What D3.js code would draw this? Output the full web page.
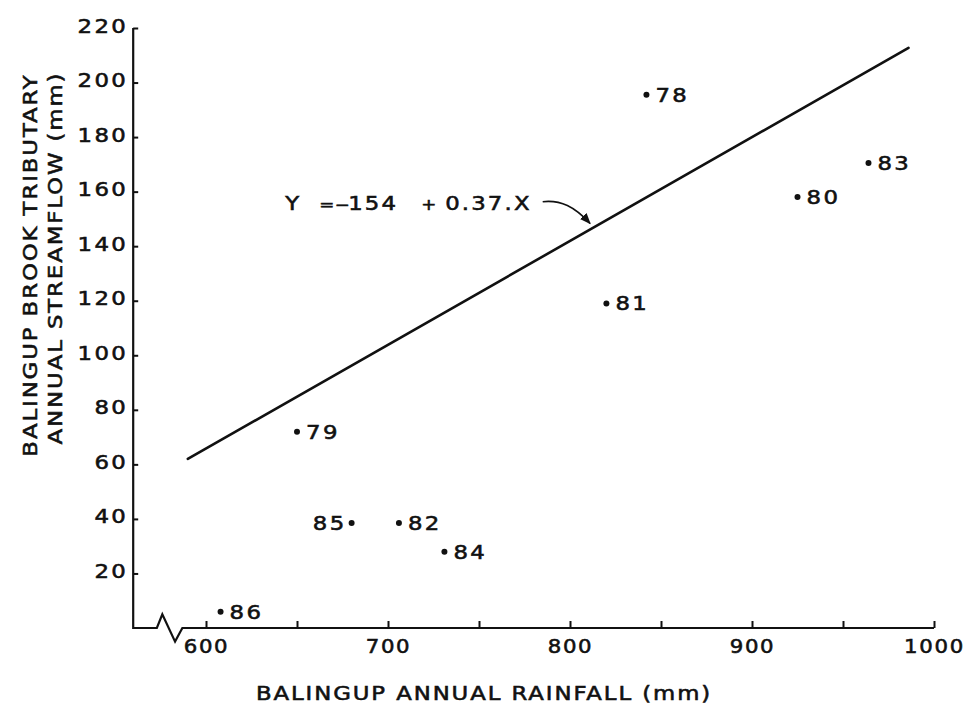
<!DOCTYPE html>
<html>
<head>
<meta charset="utf-8">
<script src="https://cdn.jsdelivr.net/npm/d3@7"></script>
<style>
  html, body { margin: 0; padding: 0; background: #fff; }
  svg { display: block; }
  text { font-family: "DejaVu Sans", sans-serif; fill: #111; stroke: #111; stroke-width: 0.55px; }
</style>
</head>
<body>
<svg id="chart" width="967" height="715"></svg>
<script>
// ---- data ----
const years      = ["78", "79", "80", "81", "82", "83", "84", "85", "86"];
const rainfall   = [842, 650, 925, 820, 706, 964, 731, 680, 608];   // mm
const streamflow = [195.5, 72, 158, 119, 38.5, 170.5, 28, 38.5, 6]; // mm
const labelSide  = ["right", "right", "right", "right", "right", "right", "right", "left", "right"];

const fitRain = [590, 986];        // regression line end points (x)
const fitFlow = [62, 212.7];       // regression line end points (y)
const equationText = ["Y", "=\u2212", "154", "+", "0.37.X"];

const xTicks = [600, 650, 700, 750, 800, 850, 900, 950, 1000];
const xTickLabels = [600, 700, 800, 900, 1000];
const yTicks = [20, 40, 60, 80, 100, 120, 140, 160, 180, 200, 220];

const xTitle = "BALINGUP ANNUAL RAINFALL (mm)";
const yTitle1 = "BALINGUP BROOK TRIBUTARY";
const yTitle2 = "ANNUAL STREAMFLOW (mm)";

// axis break (x axis) in data units
const axisStartRain = 560;
const breakRain = [573, 576, 583, 587];
const breakFlow = [0, 5, -5, 0];

// ---- drawing ----
const svg = d3.select("#chart");
const x = d3.scaleLinear().domain([600, 1000]).range([206, 934]);
const y = d3.scaleLinear().domain([0, 220]).range([628, 28]);

const SX = 1.2;          // horizontal stretch of the wide lettering
const FS = 19;           // font size
const LS = 2;            // letter spacing

function styleText(t, ls, fs) {
  t.style("font-size", (fs || FS) + "px").style("letter-spacing", (ls == null ? LS : ls) + "px");
}

// axis line (with break)
const axisPts = [[axisStartRain, 220], [axisStartRain, 0], [breakRain[0], 0]];
breakRain.forEach((r, i) => axisPts.push([r, breakFlow[i]]));
axisPts.push([1000, 0]);
svg.append("path")
  .attr("d", d3.line().x(d => x(d[0])).y(d => y(d[1]))(axisPts))
  .attr("fill", "none").attr("stroke", "#111").attr("stroke-width", 2.2)
  .attr("stroke-linejoin", "miter");

// y axis ticks + labels
const yAxis = d3.axisLeft(y).tickValues(yTicks).tickSize(-5).tickSizeOuter(0).tickPadding(0);
const gy = svg.append("g").attr("transform", `translate(${x(axisStartRain)},0)`).call(yAxis);
gy.attr("font-family", null).attr("font-size", null);
gy.select(".domain").remove();
gy.selectAll(".tick line").attr("stroke", "#111").attr("stroke-width", 2);
gy.selectAll(".tick text")
  .attr("x", 0).attr("dy", null).attr("y", null)
  .attr("text-anchor", "end")
  .attr("transform", `translate(-5,4) scale(${SX},1)`)
  .attr("fill", "#111")
  .each(function () { styleText(d3.select(this)); });

// x axis ticks + labels
const XSX = 1.12;
const xAxis = d3.axisBottom(x).tickValues(xTicks).tickSize(-7).tickSizeOuter(0).tickPadding(0)
  .tickFormat(d => xTickLabels.includes(d) ? String(d) : "");
const gx = svg.append("g").attr("transform", `translate(0,${y(0)})`).call(xAxis);
gx.attr("font-family", null).attr("font-size", null);
gx.select(".domain").remove();
gx.selectAll(".tick line").attr("stroke", "#111").attr("stroke-width", 2);
gx.selectAll(".tick text")
  .attr("x", 0).attr("dy", null).attr("y", null)
  .attr("text-anchor", "middle")
  .attr("transform", `translate(0,25) scale(${XSX},1)`)
  .attr("fill", "#111")
  .each(function () { styleText(d3.select(this), 1.5); });

// regression line
svg.append("line")
  .attr("x1", x(fitRain[0])).attr("y1", y(fitFlow[0]))
  .attr("x2", x(fitRain[1])).attr("y2", y(fitFlow[1]))
  .attr("stroke", "#111").attr("stroke-width", 2.6).attr("stroke-linecap", "round");

// points
const pts = years.map((yr, i) => ({ yr, r: rainfall[i], f: streamflow[i], side: labelSide[i] }));
svg.append("g").selectAll("circle").data(pts).join("circle")
  .attr("cx", d => x(d.r)).attr("cy", d => y(d.f)).attr("r", 3).attr("fill", "#111");

svg.append("g").selectAll("g").data(pts).join("g")
  .attr("transform", d => `translate(${x(d.r) + (d.side === "right" ? 9 : -5)},${y(d.f) + 7})`)
  .append("text")
  .attr("text-anchor", d => d.side === "right" ? "start" : "end")
  .attr("transform", `scale(${SX},1)`)
  .text(d => d.yr)
  .each(function () { styleText(d3.select(this)); });

// equation label
const eqRain = 643.5, eqFlow = 155.5;
const eqOffsets = [0, 34, 63, 136, 160];
const eqSizes = [19, 15, 19, 15, 19];
const eqSpacing = [1.8, 0.5, 1.8, 1.8, 1.8];
const eqG = svg.append("g").attr("transform", `translate(${x(eqRain)},${y(eqFlow) + 6})`);
const eqT = eqG.append("text").attr("transform", `scale(${SX},1)`);
styleText(eqT, 1.8);
eqT.selectAll("tspan").data(equationText).join("tspan")
  .attr("x", (d, i) => eqOffsets[i] / SX)
  .style("font-size", (d, i) => eqSizes[i] + "px")
  .style("letter-spacing", (d, i) => eqSpacing[i] + "px")
  .text(d => d);

// arrow from label to line
const arrowStart = [785, 156.3];
const arrowEnd = [811, 148.3];
const sx0 = x(arrowStart[0]), sy0 = y(arrowStart[1]);
const ex0 = x(arrowEnd[0]), ey0 = y(arrowEnd[1]);
svg.append("defs").append("marker")
  .attr("id", "ah").attr("viewBox", "0 0 10 10").attr("refX", 9).attr("refY", 5)
  .attr("markerWidth", 7).attr("markerHeight", 7).attr("orient", "auto")
  .append("path").attr("d", "M0,1 L10,5 L0,9 Z").attr("fill", "#111");
svg.append("path")
  .attr("d", `M${sx0},${sy0} C${sx0 + 18},${sy0 - 2} ${sx0 + 32},${sy0 + 5} ${ex0},${ey0}`)
  .attr("fill", "none").attr("stroke", "#111").attr("stroke-width", 1.6)
  .attr("marker-end", "url(#ah)");

// axis titles
const xt = svg.append("g").attr("transform", "translate(484,700)")
  .append("text").attr("text-anchor", "middle").attr("transform", `scale(${SX},1)`).text(xTitle);
styleText(xt, 1.6);

const yt1 = svg.append("g").attr("transform", "translate(37,265) rotate(-90)")
  .append("text").attr("text-anchor", "middle").attr("transform", `scale(${SX},1)`).text(yTitle1);
styleText(yt1, 1.6);
const yt2 = svg.append("g").attr("transform", "translate(62,258) rotate(-90)")
  .append("text").attr("text-anchor", "middle").attr("transform", `scale(${SX},1)`).text(yTitle2);
styleText(yt2, 1.6);
</script>
</body>
</html>
